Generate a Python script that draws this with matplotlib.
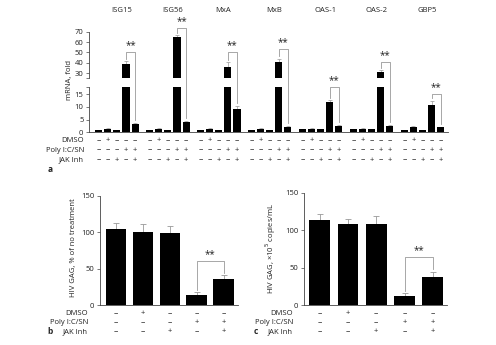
import matplotlib
matplotlib.use("Agg")
import matplotlib.pyplot as plt
import matplotlib.transforms as mtransforms
from matplotlib.lines import Line2D
import numpy as np

plt.rcParams['font.family'] = ['Open Sans', 'DejaVu Sans']
plt.rcParams['mathtext.fontset'] = 'dejavusans'

# ---------------- data ----------------
genes = ["ISG15", "ISG56", "MxA", "MxB", "OAS-1", "OAS-2", "GBP5"]
mrna_vals = [
    [1.0, 1.5, 1.0, 39.0, 3.3],
    [1.0, 1.5, 1.0, 65.0, 4.2],
    [1.0, 1.4, 1.0, 36.0, 9.3],
    [1.0, 1.5, 1.0, 40.5, 2.2],
    [1.2, 1.5, 1.2, 11.8, 2.4],
    [1.2, 1.5, 1.2, 31.2, 2.3],
    [1.0, 2.0, 1.0, 10.8, 1.9],
]
mrna_err = [
    [0.1, 0.3, 0.1, 2.5, 0.4],
    [0.1, 0.2, 0.1, 1.5, 0.3],
    [0.1, 0.3, 0.1, 4.5, 1.2],
    [0.1, 0.3, 0.1, 3.5, 0.3],
    [0.2, 0.1, 0.2, 0.9, 0.6],
    [0.1, 0.1, 0.1, 1.8, 0.7],
    [0.1, 0.3, 0.1, 1.6, 0.2],
]
mrna_bracket = [50.0, 73.3, 50.0, 53.0, 17.8, 40.3, 15.1]

row_labels = ["DMSO", "Poly I:C/SN", "JAK Inh"]
dmso = ["−", "+", "−", "−", "−"]
polyic = ["−", "−", "−", "+", "+"]
jak = ["−", "−", "+", "−", "+"]

gag_pct = [103.7, 99.7, 98.8, 13.7, 35.3]
gag_pct_err = [8.3, 11.0, 9.2, 3.7, 5.7]
gag_pct_bracket = 60.8

gag_copies = [113.5, 107.7, 107.7, 12.0, 37.0]
gag_copies_err = [7.5, 7.1, 11.1, 3.6, 7.5]
gag_copies_bracket = 64.0

# ---------------- figure ----------------
W, H = 496, 345
fig = plt.figure(figsize=(W / 100, H / 100), dpi=100)
TXT = '#222222'
SP = '#444444'
GR = '#999999'
FS = 5.5


def ax_px(left, top, right, bottom):
    return fig.add_axes([left / W, 1 - bottom / H, (right - left) / W, (bottom - top) / H])


def fy(ypx):
    return 1 - ypx / H


def style(ax, bottom=True):
    for s in ['top', 'right']:
        ax.spines[s].set_visible(False)
    ax.spines['left'].set_color(SP)
    ax.spines['left'].set_linewidth(0.6)
    ax.spines['bottom'].set_color(SP)
    ax.spines['bottom'].set_linewidth(0.6)
    if not bottom:
        ax.spines['bottom'].set_visible(False)
    ax.tick_params(axis='y', length=2.5, width=0.5, color=SP, labelsize=FS, pad=1.5, labelcolor=TXT)
    ax.set_xticks([])
    ax.patch.set_alpha(0)


# ---------- panel a ----------
gstep = 5.6
bw = 0.78
xa = [g * gstep + i for g in range(len(genes)) for i in range(5)]
ya = [v for row in mrna_vals for v in row]
ea = [v for row in mrna_err for v in row]
xlim_a = (-1.07, 38.4)

ax_top = ax_px(89, 31.7, 448, 78.3)
ax_bot = ax_px(89, 86.7, 448, 132.3)
for ax in (ax_top, ax_bot):
    ax.bar(xa, ya, width=bw, color='black', zorder=2)
    ax.errorbar(xa, ya, yerr=[np.zeros(len(ea)), ea], fmt='none', ecolor=GR,
                elinewidth=0.5, capsize=1.5, capthick=0.5, zorder=1)
    ax.set_xlim(*xlim_a)
ax_top.set_ylim(25, 70)
ax_top.set_yticks([30, 40, 50, 60, 70, 25])
ax_top.set_yticklabels(['30', '40', '50', '60', '70', ''])
ax_bot.set_ylim(0, 18)
ax_bot.set_yticks([0, 5, 10, 15, 18])
ax_bot.set_yticklabels(['0', '5', '10', '15', ''])
style(ax_top, bottom=False)
style(ax_bot)

# gap in bars between axes (white) already via separate axes

fig.text(69 / W, fy(80), "mRNA, fold", rotation=90, ha='center', va='center',
         fontsize=FS, color=TXT)

# gene labels
for g, name in enumerate(genes):
    xc = g * gstep + 2.5
    tr = mtransforms.blended_transform_factory(ax_top.transData, fig.transFigure)
    fig.text(xc, fy(11), name, transform=tr, ha='center', va='center', fontsize=FS, color=TXT)


def disp_y(val):
    ax = ax_top if val > 18 else ax_bot
    return ax.transData.transform((0, val))[1]


def disp_x(ax, x):
    return ax.transData.transform((x, 0))[0]


inv = fig.transFigure.inverted()


def fig_line(xs, ys, **kw):
    pts = inv.transform(np.column_stack([xs, ys]))
    fig.add_artist(Line2D(pts[:, 0], pts[:, 1], transform=fig.transFigure, **kw))


for g in range(len(genes)):
    x4 = g * gstep + 3
    x5 = g * gstep + 4
    v4 = mrna_vals[g][3] + mrna_err[g][3]
    v5 = mrna_vals[g][4] + mrna_err[g][4]
    yb = disp_y(mrna_bracket[g])
    y4 = disp_y(v4) + 2.5
    y5 = disp_y(v5) + 2.5
    dx4 = disp_x(ax_top, x4)
    dx5 = disp_x(ax_top, x5)
    fig_line([dx4, dx4, dx5, dx5], [y4, yb, yb, y5], color=GR, lw=0.6)
    p = inv.transform(((dx4 + dx5) / 2, yb + 1.0))
    fig.text(p[0], p[1], "**", ha='center', va='bottom', fontsize=7, color=TXT)

# sign rows for panel a
tra = mtransforms.blended_transform_factory(ax_bot.transData, fig.transFigure)
rows_y_a = [140.7, 150.2, 160.2]
for r, (lab, signs) in enumerate(zip(row_labels, [dmso, polyic, jak])):
    fig.text(84 / W, fy(rows_y_a[r]), lab, ha='right', va='center', fontsize=FS, color=TXT)
    for g in range(len(genes)):
        for i in range(5):
            fig.text(g * gstep + i, fy(rows_y_a[r]), signs[i], transform=tra,
                     ha='center', va='center', fontsize=FS, color=TXT)
fig.text(50 / W, fy(169), "a", ha='center', va='center', fontsize=FS + 0.5, color=TXT,
         fontweight='bold')


# ---------- panels b and c ----------
def bar_panel(box, vals, errs, bracket, wid, xlim, ylabel, ylab_x, label_x, row_right, letter_x):
    ax = ax_px(*box)
    x = np.arange(len(vals))
    ax.bar(x, vals, width=wid, color='black', zorder=2)
    ax.errorbar(x, vals, yerr=[np.zeros(len(errs)), errs], fmt='none', ecolor=GR,
                elinewidth=0.6, capsize=2.5, capthick=0.6, zorder=1)
    ax.set_xlim(*xlim)
    ax.set_ylim(0, 150)
    ax.set_yticks([0, 50, 100, 150])
    style(ax)
    # bracket
    yb = ax.transData.transform((0, bracket))[1]
    y4 = ax.transData.transform((0, vals[3] + errs[3]))[1] + 2.5
    y5 = ax.transData.transform((0, vals[4] + errs[4]))[1] + 2.5
    dx4 = disp_x(ax, 3)
    dx5 = disp_x(ax, 4)
    fig_line([dx4, dx4, dx5, dx5], [y4, yb, yb, y5], color=GR, lw=0.6)
    p = inv.transform(((dx4 + dx5) / 2, yb + 1.0))
    fig.text(p[0], p[1], "**", ha='center', va='bottom', fontsize=7, color=TXT)
    fig.text(ylab_x / W, fy(248), ylabel, rotation=90, ha='center', va='center',
             fontsize=FS, color=TXT)
    tr = mtransforms.blended_transform_factory(ax.transData, fig.transFigure)
    rows_y = [313.5, 322.5, 331.7]
    for r, (lab, signs) in enumerate(zip(row_labels, [dmso, polyic, jak])):
        fig.text(row_right / W, fy(rows_y[r]), lab, ha='right', va='center', fontsize=FS, color=TXT)
        for i in range(5):
            fig.text(i, fy(rows_y[r]), signs[i], transform=tr, ha='center', va='center',
                     fontsize=FS, color=TXT)
    fig.text(letter_x / W, fy(331.7), label_x, ha='center', va='center', fontsize=FS + 0.5,
             color=TXT, fontweight='bold')
    return ax


bar_panel((100, 195.7, 238, 305), gag_pct, gag_pct_err, gag_pct_bracket, 0.76,
          (-0.6, 4.54), "HIV GAG, % of no treatment", 73, "b", 88, 50)
bar_panel((304, 192.7, 446.7, 305), gag_copies, gag_copies_err, gag_copies_bracket, 0.73,
          (-0.55, 4.49), "HIV GAG, ×10$^5$ copies/mL", 271, "c", 293, 256)

fig.savefig("out.png", dpi=100)
